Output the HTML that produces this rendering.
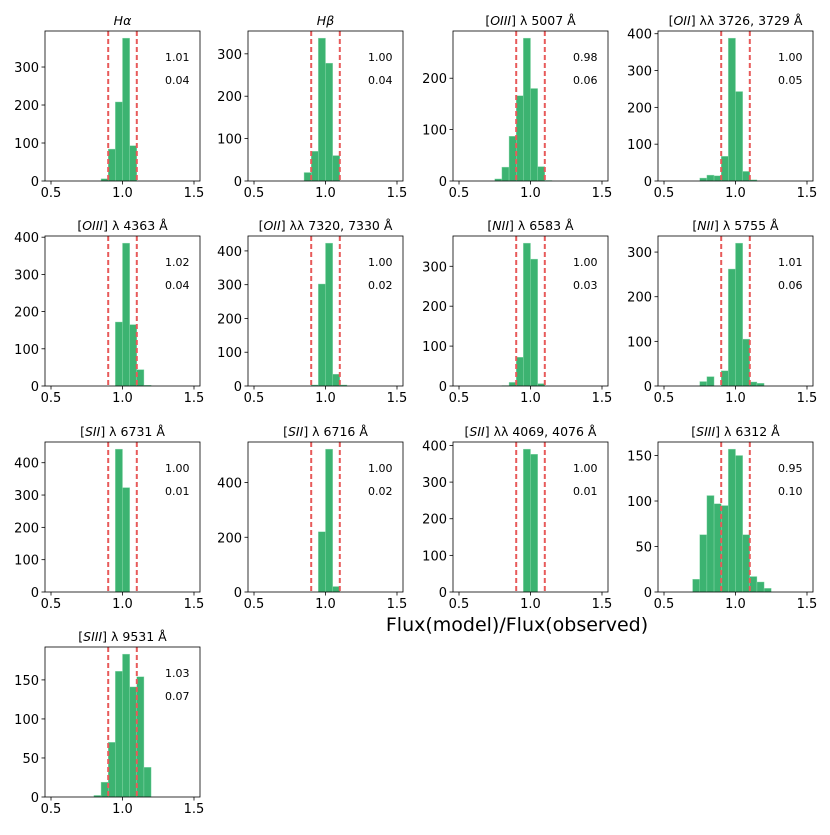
<!DOCTYPE html>
<html><head><meta charset="utf-8"><style>
body{margin:0;background:#fff}
svg text{font-family:"DejaVu Sans","Liberation Sans",sans-serif;fill:#000}
</style></head><body>
<svg id="fig" width="830" height="830" xmlns="http://www.w3.org/2000/svg"></svg>
<script>
const titles=[["","Hα"," ",""],["","Hβ"," ",""],["[","OIII","] λ 5007 Å",""],["[","OII","] λλ 3726, 3729 Å",""],
["[","OIII","] λ 4363 Å",""],["[","OII","] λλ 7320, 7330 Å",""],["[","NII","] λ 6583 Å",""],["[","NII","] λ 5755 Å",""],
["[","SII","] λ 6731 Å",""],["[","SII","] λ 6716 Å",""],["[","SII","] λλ 4069, 4076 Å",""],["[","SIII","] λ 6312 Å",""],["[","SIII","] λ 9531 Å",""]];
const binStarts=[0.85,0.85,0.75,0.75,0.95,0.90,0.80,0.75,0.95,0.95,0.95,0.70,0.80];
const counts0=[6,84,208,376,93];
const counts1=[20,70,337,278,60];
const counts2=[4,27,87,166,278,180,28,1];
const counts3=[8,16,14,67,388,243,26,3];
const counts4=[172,384,165,44,2];
const counts5=[3,302,423,35,3];
const counts6=[1,9,72,358,318,6];
const counts7=[10,21,0,34,262,320,105,9,6];
const counts8=[442,323];
const counts9=[220,522,20];
const counts10=[390,376];
const counts11=[14,63,106,97,95,157,150,63,17,11,4];
const counts12=[2,19,70,161,183,141,154,38];
const allCounts=[counts0,counts1,counts2,counts3,counts4,counts5,counts6,counts7,counts8,counts9,counts10,counts11,counts12];
const means=["1.01","1.00","0.98","1.00","1.02","1.00","1.00","1.01","1.00","1.00","1.00","0.95","1.03"];
const stds=["0.04","0.04","0.06","0.05","0.04","0.02","0.03","0.06","0.01","0.02","0.01","0.10","0.07"];
const tickSteps=[100,100,100,100,100,100,100,100,100,200,100,50,50];
const xTicks=[0.5,1.0,1.5];
const xTickLabels=["0.5","1.0","1.5"];
const binWidth=0.05;
const limits=[0.9,1.1];

const NS="http://www.w3.org/2000/svg";
const svg=document.getElementById('fig');
function mk(tag,attrs,parent){const e=document.createElementNS(NS,tag);for(const k in attrs)e.setAttribute(k,attrs[k]);(parent||svg).appendChild(e);return e;}
const colL=[45,248,453,658], rowT=[31,236,442,647], W=155, H=150;
for(let p=0;p<13;p++){
  const c=p%4,r=Math.floor(p/4);
  const L=colL[c],T=rowT[r],B=T+H;
  const g=mk('g',{});
  
  
  const counts=allCounts[p];
  const ymax=Math.max(...counts)*1.05;
  const x=v=>L+(v-0.458)/(1.542-0.458)*W;
  const y=v=>B-v/ymax*H;
  counts.forEach((v,i)=>{
    if(v<=0)return;
    const x0=x(binStarts[p]+i*binWidth),x1=x(binStarts[p]+(i+1)*binWidth);
    const b=mk('rect',{x:x0,y:y(v),width:x1-x0,height:B-y(v),fill:'#3cb371',stroke:'#8fdcb0','stroke-width':0.4},g);
    
    
  });
  limits.forEach(v=>{
    const l=mk('line',{x1:x(v),x2:x(v),y1:T,y2:B,stroke:'#e85a5a','stroke-width':2,'stroke-dasharray':'5,3'},g);
    
    
  });
  const fr=mk('rect',{x:L,y:T,width:W,height:H,fill:'none',stroke:'#000','stroke-width':0.8},g);
  
  
  xTicks.forEach((v,i)=>{
    mk('line',{x1:x(v),x2:x(v),y1:B,y2:B+3.5,stroke:'#000','stroke-width':0.8},g);
    const t=mk('text',{x:x(v),y:B+16,'text-anchor':'middle','font-size':13},g);
    t.textContent=xTickLabels[i];
    
    
  });
  for(let v=0;v<=ymax;v+=tickSteps[p]){
    mk('line',{x1:L-3.5,x2:L,y1:y(v),y2:y(v),stroke:'#000','stroke-width':0.8},g);
    const t=mk('text',{x:L-6,y:y(v)+5,'text-anchor':'end','font-size':13},g);
    t.textContent=String(v);
    
    
  }
  const tt=mk('text',{x:L+W/2,y:T-6,'text-anchor':'middle','font-size':12.5},g);
  
  
  const parts=titles[p];
  if(parts[0]===""){const s=mk('tspan',{'font-style':'italic'},tt);s.textContent=parts[1];}
  else{const a=mk('tspan',{},tt);a.textContent=parts[0];const b=mk('tspan',{'font-style':'italic'},tt);b.textContent=parts[1];const d=mk('tspan',{},tt);d.textContent=parts[2];}
  const m=mk('text',{x:L+120,y:T+30,'font-size':11},g);m.textContent=means[p];
  
  
  const s=mk('text',{x:L+120,y:T+53,'font-size':11},g);s.textContent=stds[p];
  
  
}
const xl=mk('text',{x:517,y:631,'text-anchor':'middle','font-size':19});
xl.textContent='Flux(model)/Flux(observed)';


</script>
</body></html>
